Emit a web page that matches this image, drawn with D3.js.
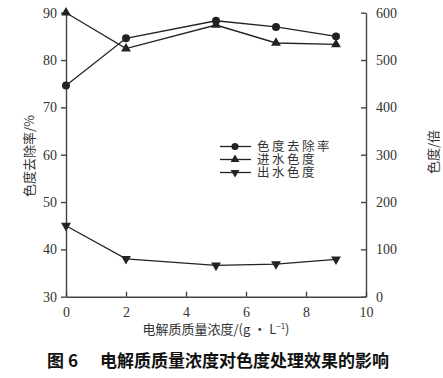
<!DOCTYPE html>
<html><head><meta charset="utf-8">
<script src="https://cdn.jsdelivr.net/npm/d3@7/dist/d3.min.js"></script>
<style>body{margin:0;background:#fff}</style>
</head><body><svg id="c" width="443" height="378"></svg>
<script>
const concentrations = [0, 2, 5, 7, 9];
const removalRate = [74.6, 84.6, 88.3, 87.0, 85.0];
const inflowColor = [600, 524, 574, 536, 533];
const outflowColor = [150, 80, 66, 69, 79];
const xTicks = [0, 2, 4, 6, 8, 10];
const leftTicks = [30, 40, 50, 60, 70, 80, 90];
const rightTicks = [0, 100, 200, 300, 400, 500, 600];
const seriesNames = ["色度去除率", "进水色度", "出水色度"];

const svg = d3.select("#c");
const serif = "'Liberation Serif','DejaVu Serif',serif";
const cjk = "'Noto Sans CJK SC','Noto Sans CJK JP',sans-serif";
const ink = "#222";
const axisCol = "#444";

const x = d3.scaleLinear().domain([0, 10]).range([66, 366]);
const yL = d3.scaleLinear().domain([30, 90]).range([296.7, 12.7]);
const yR = d3.scaleLinear().domain([0, 600]).range([296.7, 12.7]);

// axes
const gx = svg.append("g").attr("transform", `translate(0,${yL(30)})`)
  .call(d3.axisBottom(x).tickValues(xTicks).tickSizeInner(-5).tickSizeOuter(0).tickPadding(10));
const gl = svg.append("g").attr("transform", `translate(${x(0)},0)`)
  .call(d3.axisLeft(yL).tickValues(leftTicks).tickSizeInner(5).tickSizeOuter(0).tickPadding(4));
const gr = svg.append("g").attr("transform", `translate(${x(10)},0)`)
  .call(d3.axisRight(yR).tickValues(rightTicks).tickSizeInner(-5).tickSizeOuter(0).tickPadding(10));
[gx, gl, gr].forEach(g => {
  g.selectAll("path,line").attr("stroke", axisCol).attr("stroke-width", 1.4);
  g.selectAll("text").attr("font-family", serif).attr("font-size", 14).attr("fill", "#333");
});

// series
const line = (ys, sc) => d3.line().x((d, i) => x(concentrations[i])).y(d => sc(d))(ys);
svg.append("path").attr("d", line(removalRate, yL)).attr("fill", "none").attr("stroke", ink).attr("stroke-width", 1.3);
svg.append("path").attr("d", line(inflowColor, yR)).attr("fill", "none").attr("stroke", ink).attr("stroke-width", 1.3);
svg.append("path").attr("d", line(outflowColor, yR)).attr("fill", "none").attr("stroke", ink).attr("stroke-width", 1.3);

const sym = {
  circle: d3.symbol().type(d3.symbolCircle).size(50),
  up: d3.symbol().type(d3.symbolTriangle).size(42),
};
function markers(ys, sc, kind) {
  svg.append("g").selectAll("path").data(ys).join("path")
    .attr("d", kind === "circle" ? sym.circle() : sym.up())
    .attr("transform", (d, i) => `translate(${x(concentrations[i])},${sc(d)})` + (kind === "down" ? " rotate(180)" : ""))
    .attr("fill", ink);
}
markers(removalRate, yL, "circle");
markers(inflowColor, yR, "up");
markers(outflowColor, yR, "down");

// legend
const legY = [146.5, 159.5, 172.5];
const kinds = ["circle", "up", "down"];
const legSym = {
  circle: d3.symbol().type(d3.symbolCircle).size(40),
  up: d3.symbol().type(d3.symbolTriangle).size(34),
};
seriesNames.forEach((n, i) => {
  const g = svg.append("g").attr("transform", `translate(0,${legY[i]})`);
  g.append("line").attr("x1", 220).attr("x2", 251).attr("stroke", ink).attr("stroke-width", 1.3);
  g.append("path").attr("d", kinds[i] === "circle" ? legSym.circle() : legSym.up())
    .attr("transform", `translate(235,0)` + (kinds[i] === "down" ? " rotate(180)" : "")).attr("fill", ink);
  g.append("text").attr("x", 257).attr("y", 0).attr("dy", "0.36em").text(n)
    .attr("font-family", cjk).attr("font-size", 12.5).attr("letter-spacing", 2.5).attr("fill", "#333");
});

// axis titles
svg.append("text").attr("transform", "translate(29,156) rotate(-90)").attr("text-anchor", "middle")
  .attr("dy", "0.35em").attr("font-family", cjk).attr("font-size", 13).attr("fill", "#333").text("色度去除率/%");
svg.append("text").attr("transform", "translate(433,152) rotate(-90)").attr("text-anchor", "middle")
  .attr("dy", "0.35em").attr("font-family", cjk).attr("font-size", 13).attr("fill", "#333").text("色度/倍");

const xt = svg.append("text").attr("x", 216).attr("y", 334).attr("text-anchor", "middle")
  .attr("font-family", cjk).attr("font-size", 13).attr("fill", "#333");
xt.append("tspan").text("电解质质量浓度/(g · L");
xt.append("tspan").attr("dy", -5).attr("font-size", 8).text("−1");
xt.append("tspan").attr("dy", 5).text(")");

// caption
const cap = svg.append("text").attr("x", 218).attr("y", 367).attr("text-anchor", "middle")
  .attr("font-family", cjk).attr("font-size", 17).attr("font-weight", "bold").attr("fill", "#111");
cap.append("tspan").text("图 6");
cap.append("tspan").attr("dx", 22).text("电解质质量浓度对色度处理效果的影响");
</script></body></html>
